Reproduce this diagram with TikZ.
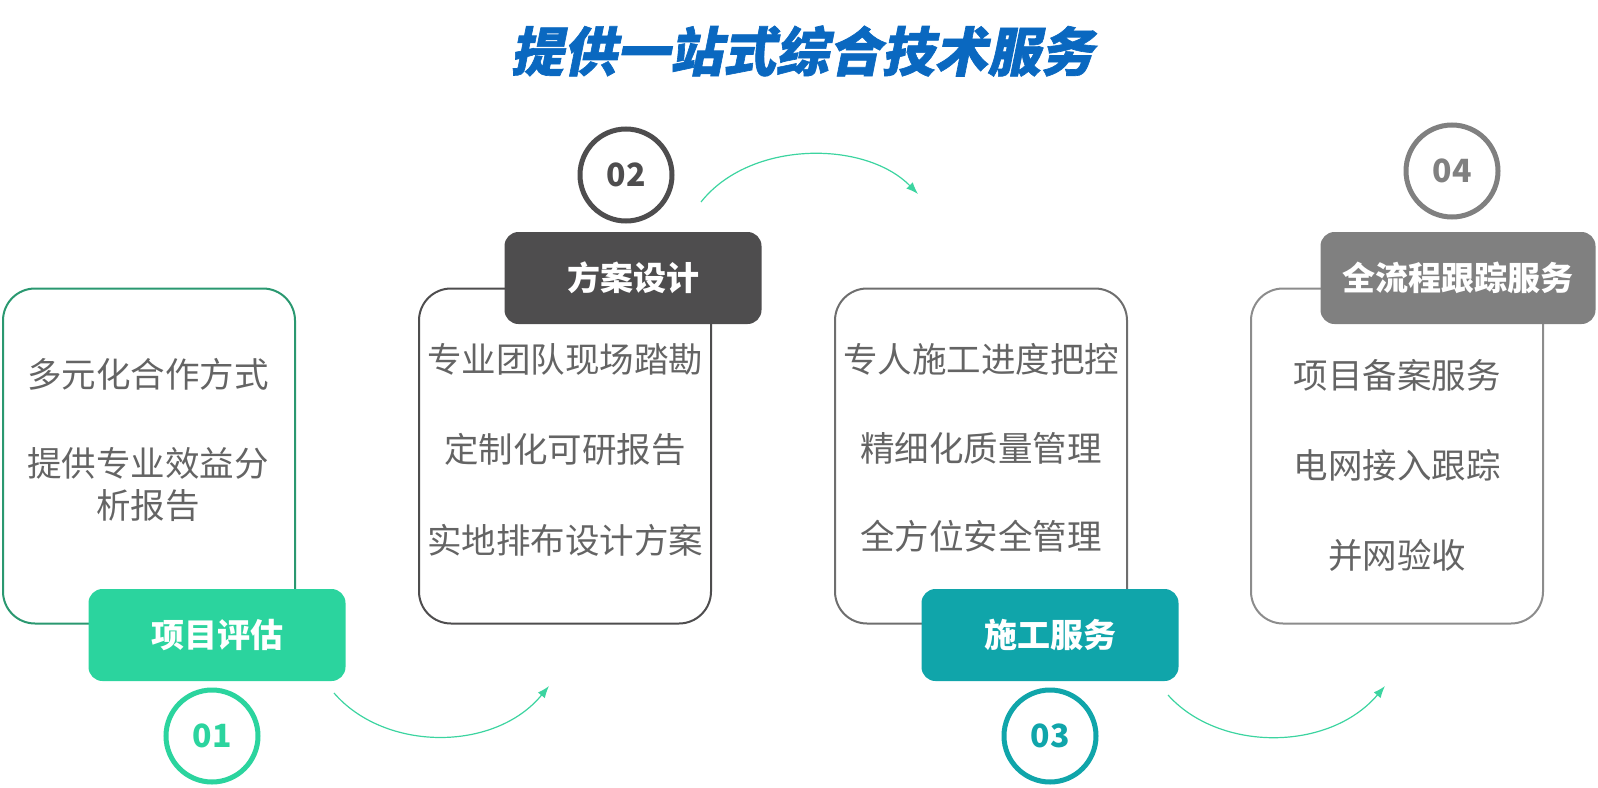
\documentclass[tikz,border=0pt]{standalone}
\usepackage{fontspec}
\usepackage{xcolor}
\usepackage{tikz}
\usetikzlibrary{arrows.meta}
\newfontfamily\cjk{Noto Sans CJK SC}
\newfontfamily\cjkslant[FakeSlant=0.2,FakeBold=1.2]{Noto Sans CJK SC}
\definecolor{titleblue}{RGB}{10,104,192}
\definecolor{stepgreen}{RGB}{43,212,158}
\definecolor{boxgreen}{RGB}{42,152,112}
\definecolor{stepdark}{RGB}{78,77,78}
\definecolor{stepteal}{RGB}{16,165,170}
\definecolor{stepgray}{RGB}{128,128,128}
\definecolor{boxgray}{RGB}{110,110,110}
\definecolor{boxlight}{RGB}{140,140,140}
\definecolor{bodygray}{RGB}{100,100,100}
\definecolor{flowgreen}{RGB}{60,212,160}

\begin{document}
\begin{tikzpicture}[x=1pt,y=-1pt,
    stepbox/.style={draw,line width=2pt,rounded corners=32pt,minimum width=292pt,minimum height=335pt},
    steptag/.style={rounded corners=14pt,minimum height=92pt,text=white,font=\cjk\bfseries\fontsize{33}{40}\selectfont},
    stepnum/.style={circle,line width=5pt,minimum size=92pt,font=\cjk\bfseries\fontsize{32}{38}\selectfont},
    itemtext/.style={text=bodygray,font=\cjk\fontsize{34.5}{42}\selectfont,align=center},
    flowarrow/.style={line width=1.2pt,flowgreen,-{Latex[length=12pt,width=9pt]}}]
    \useasboundingbox (0,0) rectangle (1598,787);

    \node[text=titleblue,font=\cjkslant\bfseries\fontsize{53}{60}\selectfont] (title) at (802,51) {提供一站式综合技术服务};

    % boxes
    \node[stepbox,draw=boxgreen] (box1) at (149,456) {};
    \node[stepbox,draw=stepdark] (box2) at (565,456) {};
    \node[stepbox,draw=boxgray] (box3) at (981,456) {};
    \node[stepbox,draw=boxlight] (box4) at (1397,456) {};

    % step titles
    \node[steptag,fill=stepgreen,minimum width=257pt] (tag1) at (217,635) {项目评估};
    \node[steptag,fill=stepdark,minimum width=257pt] (tag2) at (633,278) {方案设计};
    \node[steptag,fill=stepteal,minimum width=257pt] (tag3) at (1050,635) {施工服务};
    \node[steptag,fill=stepgray,minimum width=275pt] (tag4) at (1458,278) {全流程跟踪服务};

    % step numbers
    \node[stepnum,draw=stepgreen,text=stepgreen] (num1) at (212,736) {01};
    \node[stepnum,draw=stepdark,text=stepdark] (num2) at (626,175) {02};
    \node[stepnum,draw=stepteal,text=stepteal] (num3) at (1050,736) {03};
    \node[stepnum,draw=stepgray,text=stepgray] (num4) at (1452,171) {04};

    \node[itemtext] (i11) at (148,374) {多元化合作方式};
    \node[itemtext] (i12) at (148,485) {提供专业效益分\\析报告};

    \node[itemtext] (i21) at (565,359) {专业团队现场踏勘};
    \node[itemtext] (i22) at (565,449) {定制化可研报告};
    \node[itemtext] (i23) at (565,540) {实地排布设计方案};

    \node[itemtext] (i31) at (981,359) {专人施工进度把控};
    \node[itemtext] (i32) at (981,448) {精细化质量管理};
    \node[itemtext] (i33) at (981,536) {全方位安全管理};

    \node[itemtext] (i41) at (1397,375) {项目备案服务};
    \node[itemtext] (i42) at (1397,465) {电网接入跟踪};
    \node[itemtext] (i43) at (1397,555) {并网验收};

    % flow arrows
    \coordinate (f1a) at (334,693);
    \coordinate (f1b) at (549,686);
    \coordinate (f2a) at (701,202);
    \coordinate (f2b) at (918,194);
    \coordinate (f3a) at (1168,695);
    \coordinate (f3b) at (1385,686);
    \draw[flowarrow] (f1a) .. controls (385,752) and (495,752) .. (f1b);
    \draw[flowarrow] (f2a) .. controls (750,140) and (865,140) .. (f2b);
    \draw[flowarrow] (f3a) .. controls (1219,752) and (1329,752) .. (f3b);
\end{tikzpicture}
\end{document}
